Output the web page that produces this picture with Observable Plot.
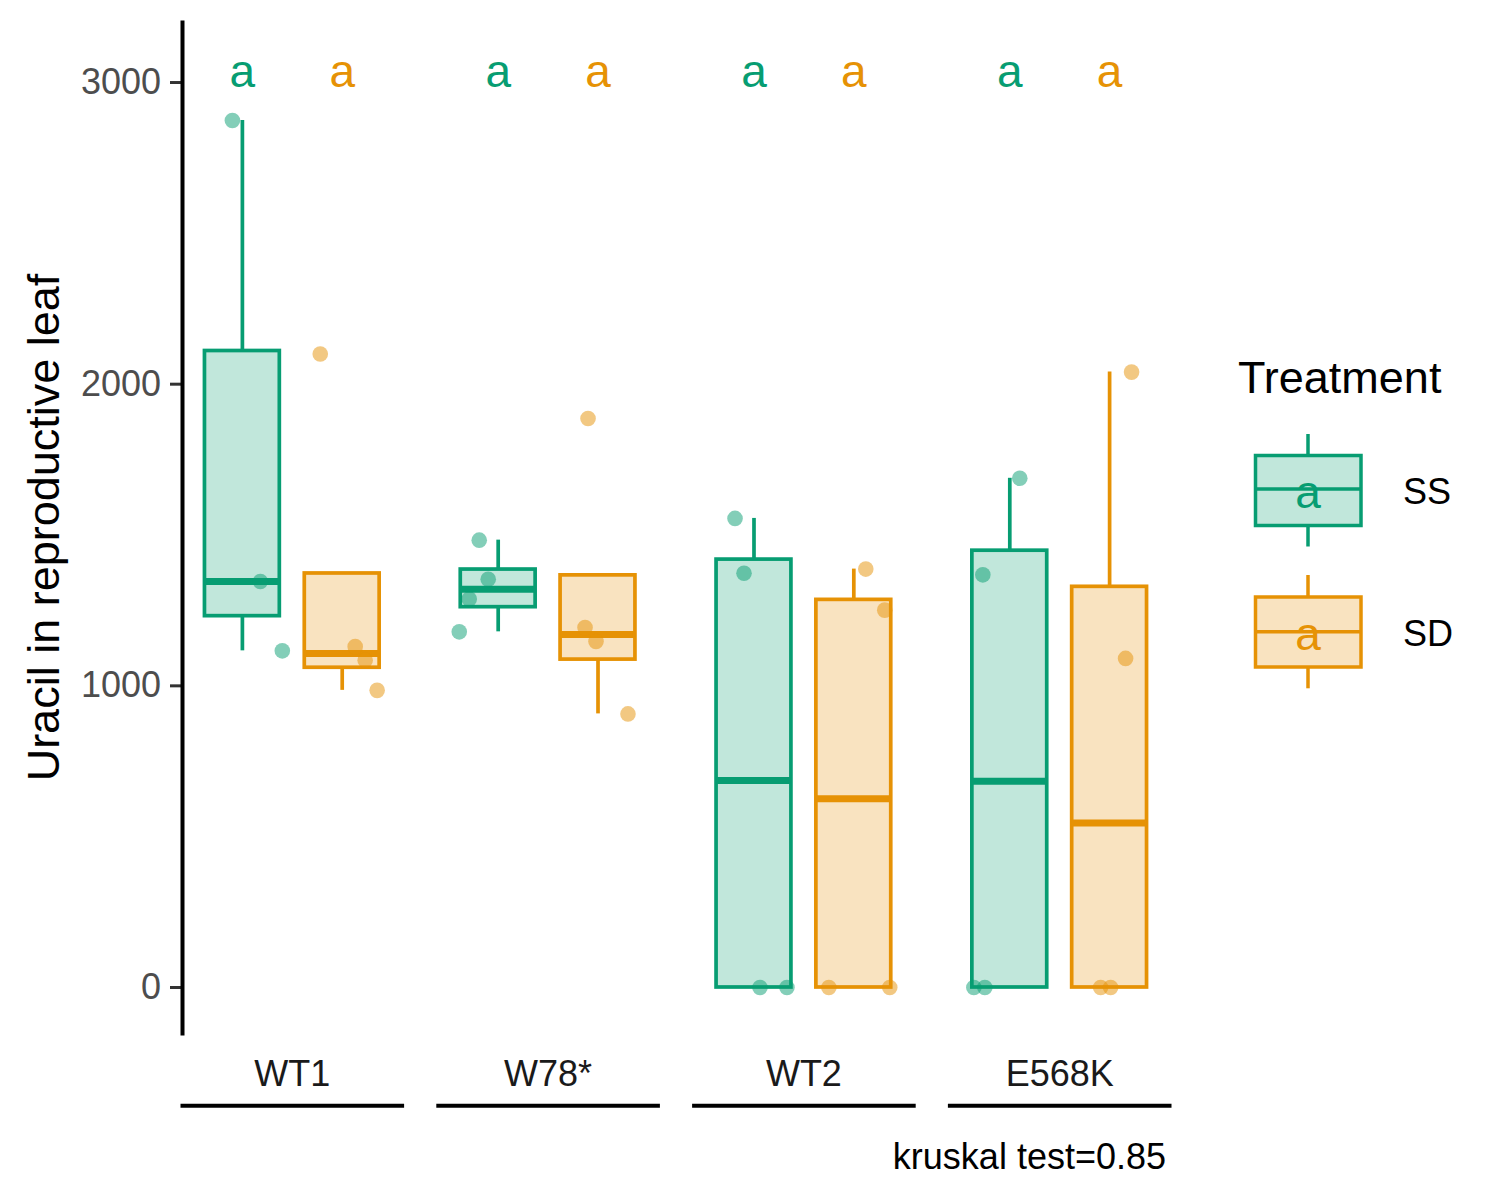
<!DOCTYPE html>
<html><head><meta charset="utf-8">
<script src="https://cdn.jsdelivr.net/npm/d3@7"></script>
<script src="https://cdn.jsdelivr.net/npm/@observablehq/plot@0.6"></script>
<style>
body{margin:0;background:#fff;font-family:"Liberation Sans",Arial,sans-serif}
#wrap{position:relative;width:1500px;height:1200px}
#wrap svg{display:block}
#legend{position:absolute;left:0;top:0;pointer-events:none}
</style></head><body><div id="wrap"></div>
<script>
// ---- data ----
const genotypes = ["WT1", "W78*", "WT2", "E568K"];
const treatments = ["SS", "SD"];
const ssValues = [[2874, 1346, 1116], [1483, 1353, 1288, 1179], [1555, 1373, 0, 0], [1688, 1368, 0, 0]];
const sdValues = [[2100, 1130, 1085, 985], [1886, 1193, 1147, 907], [1387, 1251, 0, 0], [2040, 1091, 0, 0]];
// horizontal jitter of each point, in category units
const ssJitter = [[-0.10, 0.18, 0.40], [-0.19, -0.10, -0.29, -0.39], [-0.19, -0.10, 0.06, 0.33], [0.10, -0.27, -0.36, -0.25]];
const sdJitter = [[-0.22, 0.13, 0.23, 0.35], [-0.10, -0.13, -0.02, 0.30], [0.12, 0.31, -0.25, 0.36], [0.22, 0.16, -0.09, 0.01]];
const ssLetters = ["a", "a", "a", "a"];
const sdLetters = ["a", "a", "a", "a"];
const letterY = 3035;
const yTicks = [0, 1000, 2000, 3000];
const caption = "kruskal test=0.85";
const yTitle = "Uracil in reproductive leaf";
const legendTitle = "Treatment";

// ---- styles ----
const strokeColor = {SS: "#079D72", SD: "#E69205"};
const boxFill = {SS: "#C1E7DB", SD: "#F9E3C0"};
const FONT = "Liberation Sans, Arial, sans-serif";
const boxHalf = 0.375;

// ---- build tables ----
const points = [];
const stats = [];
genotypes.forEach((g, gi) => {
  [["SS", ssValues[gi], ssJitter[gi], ssLetters[gi]], ["SD", sdValues[gi], sdJitter[gi], sdLetters[gi]]].forEach(([t, vals, jit, letter]) => {
    const pos = treatments.indexOf(t) + 1;
    vals.forEach((v, i) => points.push({genotype: g, treatment: t, pos, value: v, jitter: jit[i]}));
    const s = vals.slice().sort(d3.ascending);
    const q1 = d3.quantile(s, 0.25), med = d3.quantile(s, 0.5), q3 = d3.quantile(s, 0.75);
    const iqr = q3 - q1;
    const lo = d3.min(s.filter(v => v >= q1 - 1.5 * iqr));
    const hi = d3.max(s.filter(v => v <= q3 + 1.5 * iqr));
    stats.push({genotype: g, treatment: t, pos, q1, med, q3, lo: Math.min(lo, q1), hi: Math.max(hi, q3), letter});
  });
});

const plot = Plot.plot({
  width: 1500, height: 1200,
  marginLeft: 182, marginRight: 331, marginTop: 22, marginBottom: 167,
  style: {fontFamily: FONT, background: "#fff", overflow: "visible"},
  fx: {domain: genotypes, paddingInner: 0.1415, paddingOuter: 0, round: false, label: null},
  x: {domain: [0.4, 2.6], axis: null},
  y: {domain: [-152.5, 3199]},
  color: {type: "identity"},
  marks: [
    Plot.axisY({ticks: yTicks, tickFormat: d => String(d), tickSize: 12, tickPadding: 9.5, fontSize: 36, fill: "#4D4D4D", stroke: "#333333", strokeWidth: 3, label: null}),
    Plot.axisFx({anchor: "bottom", tickSize: 0, tickPadding: 27, fontSize: 36, fill: "#1A1A1A", label: null}),
    Plot.frame({anchor: "bottom", dy: 72.3, stroke: "#000", strokeWidth: 4}),
    // whiskers
    Plot.ruleX(stats, {fx: "genotype", x: "pos", y1: "q3", y2: "hi", stroke: d => strokeColor[d.treatment], strokeWidth: 3.7}),
    Plot.ruleX(stats, {fx: "genotype", x: "pos", y1: "lo", y2: "q1", stroke: d => strokeColor[d.treatment], strokeWidth: 3.7}),
    // boxes
    Plot.rect(stats, {fx: "genotype", x1: d => d.pos - boxHalf, x2: d => d.pos + boxHalf, y1: "q1", y2: "q3",
      fill: d => boxFill[d.treatment], stroke: d => strokeColor[d.treatment], strokeWidth: 3.7}),
    // medians
    Plot.ruleY(stats, {fx: "genotype", x1: d => d.pos - boxHalf, x2: d => d.pos + boxHalf, y: "med",
      stroke: d => strokeColor[d.treatment], strokeWidth: 7}),
    // jittered points
    Plot.dot(points, {fx: "genotype", x: d => d.pos + d.jitter, y: "value", r: 7.8,
      fill: d => strokeColor[d.treatment], fillOpacity: 0.5, stroke: null}),
    // letters
    Plot.text(stats, {fx: "genotype", x: "pos", y: () => letterY, text: "letter", fontSize: 46,
      fill: d => strokeColor[d.treatment], lineAnchor: "middle"}),
    // y axis line (left panel only)
    Plot.frame({anchor: "left", facetAnchor: "left", stroke: "#000", strokeWidth: 4})
  ]
});

const svg = d3.select(plot);
svg.append("text")
  .attr("transform", "translate(59,527.5) rotate(-90)")
  .attr("text-anchor", "middle")
  .attr("font-family", FONT).attr("font-size", 45).attr("fill", "#000")
  .text(yTitle);
svg.append("text")
  .attr("x", 1166).attr("y", 1169)
  .attr("text-anchor", "end")
  .attr("font-family", FONT).attr("font-size", 36).attr("fill", "#000")
  .text(caption);

document.getElementById("wrap").appendChild(plot);

// ---- legend (drawn as overlay) ----
const leg = d3.select("#wrap").append("svg").attr("id", "legend")
  .attr("width", 1500).attr("height", 1200)
  .attr("font-family", FONT);
leg.append("text").attr("x", 1238).attr("y", 393).attr("font-size", 45).attr("fill", "#000").text(legendTitle);
const keys = [
  {t: "SS", top: 455.5, bottom: 525.5, mid: 489, wt: 434, wb: 546.5, letterBase: 508, labelBase: 504},
  {t: "SD", top: 597, bottom: 667, mid: 631.7, wt: 575, wb: 688.3, letterBase: 650, labelBase: 646}
];
const kx1 = 1255.5, kx2 = 1361, kc = 1308;
keys.forEach(k => {
  const c = strokeColor[k.t];
  leg.append("line").attr("x1", kc).attr("x2", kc).attr("y1", k.wt).attr("y2", k.top).attr("stroke", c).attr("stroke-width", 3.5);
  leg.append("line").attr("x1", kc).attr("x2", kc).attr("y1", k.bottom).attr("y2", k.wb).attr("stroke", c).attr("stroke-width", 3.5);
  leg.append("rect").attr("x", kx1).attr("y", k.top).attr("width", kx2 - kx1).attr("height", k.bottom - k.top)
    .attr("fill", boxFill[k.t]).attr("stroke", c).attr("stroke-width", 3.5);
  leg.append("line").attr("x1", kx1).attr("x2", kx2).attr("y1", k.mid).attr("y2", k.mid).attr("stroke", c).attr("stroke-width", 3.5);
  leg.append("text").attr("x", kc).attr("y", k.letterBase).attr("text-anchor", "middle").attr("font-size", 46).attr("fill", c).text("a");
  leg.append("text").attr("x", 1403).attr("y", k.labelBase).attr("font-size", 36).attr("fill", "#000").text(k.t);
});
</script></body></html>
